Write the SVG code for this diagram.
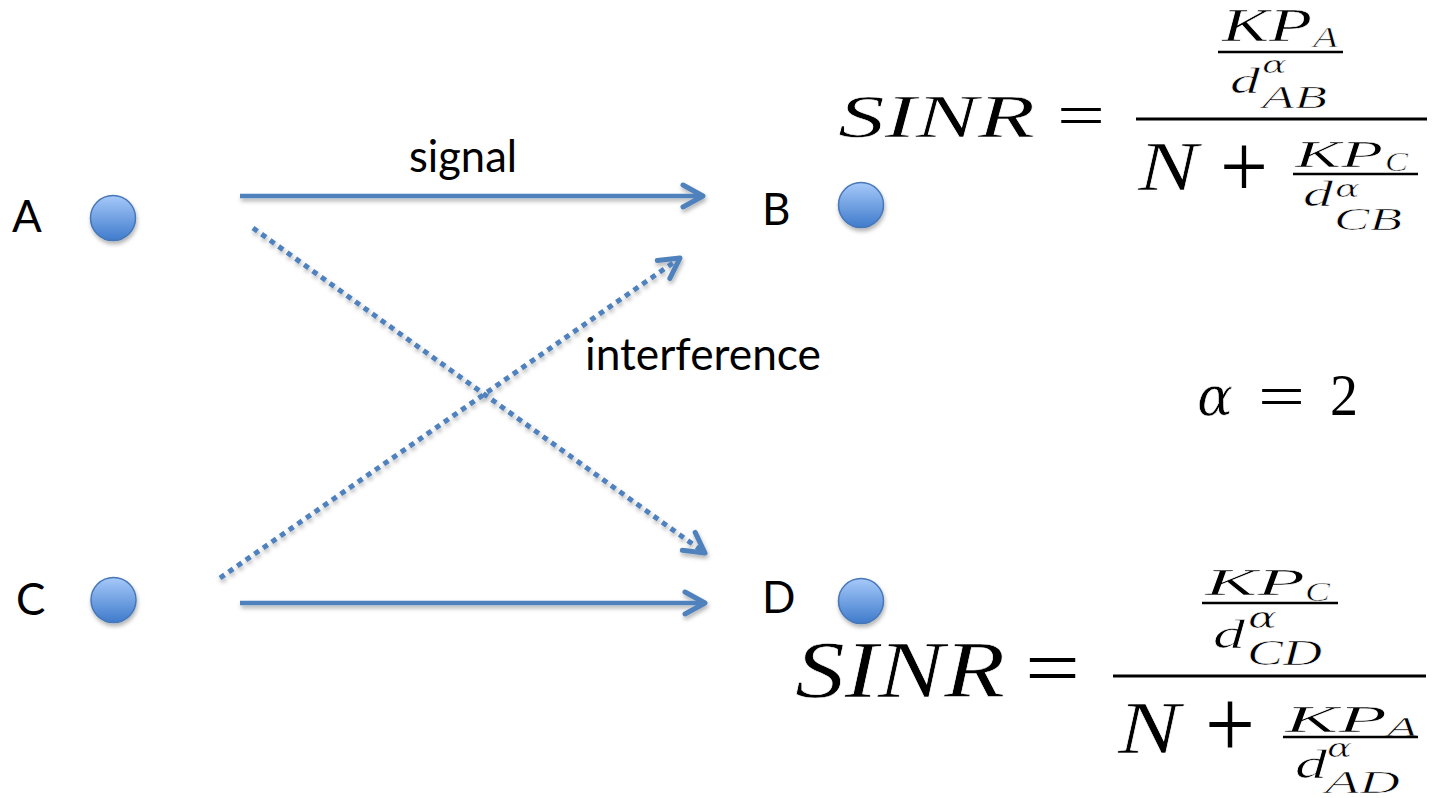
<svg xmlns="http://www.w3.org/2000/svg" width="1441" height="798" viewBox="0 0 1441 798">
<defs>
<linearGradient id="ball" x1="0" y1="0" x2="0" y2="1">
<stop offset="0" stop-color="#a6c9fa"/>
<stop offset="1" stop-color="#3f7bcb"/>
</linearGradient>
<filter id="sh" x="-20%" y="-20%" width="140%" height="150%">
<feDropShadow dx="1" dy="3" stdDeviation="2" flood-color="#000" flood-opacity="0.3"/>
</filter>
<marker id="arr" markerUnits="userSpaceOnUse" viewBox="-26 -15 30 30" refX="0" refY="0" markerWidth="30" markerHeight="30" orient="auto">
<path d="M-20,-11 L0,0 L-20,11" fill="none" stroke="#4f81bd" stroke-width="5" stroke-linecap="round" stroke-linejoin="round"/>
</marker>
</defs>
<style>
.lbl{font-family:Lato,"Open Sans","Liberation Sans",sans-serif;font-size:44px;fill:#000}
.node{fill:url(#ball);stroke:#4677b8;stroke-width:1.5}
.edge{fill:none;stroke:#4f81bd;stroke-width:4.5;marker-end:url(#arr)}
.dot{stroke-dasharray:5.5 5;stroke-width:5}
.m{font-family:"Liberation Serif","Times New Roman",serif;font-style:italic;fill:#000;stroke:#fff;stroke-width:0.6}
.g{font-family:"DejaVu Serif","Liberation Serif",serif;font-style:italic;fill:#000;stroke:#fff;stroke-width:0.6}
.u{font-family:"Liberation Serif","Times New Roman",serif;font-style:normal;fill:#000}
.bar{stroke:#000;fill:none}
</style>
<rect width="1441" height="798" fill="#fff"/>

<g id="connectors" filter="url(#sh)">
<line class="edge" x1="240" y1="196" x2="703" y2="196"/>
<line class="edge" x1="240" y1="603" x2="705" y2="603"/>
<line class="edge dot" x1="253" y1="228" x2="705" y2="553"/>
<line class="edge dot" x1="220" y1="578" x2="680" y2="258"/>
</g>

<g id="node-A">
<circle class="node" cx="113" cy="218" r="22.5" filter="url(#sh)"/>
<text class="lbl" x="12" y="232" font-size="46">A</text>
</g>
<g id="node-B">
<circle class="node" cx="861" cy="205" r="22.5" filter="url(#sh)"/>
<text class="lbl" x="762" y="225">B</text>
</g>
<g id="node-C">
<circle class="node" cx="113.5" cy="600" r="22.5" filter="url(#sh)"/>
<text class="lbl" x="16" y="615" font-size="46">C</text>
</g>
<g id="node-D">
<circle class="node" cx="861" cy="601" r="22.5" filter="url(#sh)"/>
<text class="lbl" x="762" y="613">D</text>
</g>

<g id="labels">
<text class="lbl" x="409" y="172" textLength="108" lengthAdjust="spacingAndGlyphs">signal</text>
<text class="lbl" x="585" y="370" textLength="236" lengthAdjust="spacingAndGlyphs">interference</text>
</g>

<g id="formula-B">
<text class="m" x="838" y="137" font-size="62" textLength="197" lengthAdjust="spacingAndGlyphs">SINR</text>
<text class="u" x="1057" y="136" font-size="62" textLength="48" lengthAdjust="spacingAndGlyphs">=</text>
<line class="bar" x1="1136" y1="119" x2="1427" y2="119" stroke-width="3"/>
<text class="m" x="1222" y="41" font-size="46" textLength="90" lengthAdjust="spacingAndGlyphs">KP</text>
<text class="m" x="1313" y="47" font-size="30" textLength="25" lengthAdjust="spacingAndGlyphs">A</text>
<line class="bar" x1="1218" y1="52" x2="1343" y2="52" stroke-width="2.5"/>
<text class="m" x="1230" y="93" font-size="36" textLength="30" lengthAdjust="spacingAndGlyphs">d</text>
<text class="g" x="1262" y="73" font-size="24" textLength="25" lengthAdjust="spacingAndGlyphs">α</text>
<text class="m" x="1262" y="108" font-size="31" textLength="65" lengthAdjust="spacingAndGlyphs">AB</text>
<text class="m" x="1138" y="190" font-size="70" textLength="60" lengthAdjust="spacingAndGlyphs">N</text>
<text class="u" x="1220" y="197" font-size="90" textLength="48" lengthAdjust="spacingAndGlyphs">+</text>
<text class="m" x="1295" y="167" font-size="38" textLength="88" lengthAdjust="spacingAndGlyphs">KP</text>
<text class="m" x="1385" y="171" font-size="28" textLength="23" lengthAdjust="spacingAndGlyphs">C</text>
<line class="bar" x1="1293" y1="174" x2="1418" y2="174" stroke-width="2.5"/>
<text class="m" x="1303" y="206" font-size="36" textLength="30" lengthAdjust="spacingAndGlyphs">d</text>
<text class="g" x="1335" y="197" font-size="24" textLength="25" lengthAdjust="spacingAndGlyphs">α</text>
<text class="m" x="1334" y="230" font-size="31" textLength="68" lengthAdjust="spacingAndGlyphs">CB</text>
</g>

<g id="formula-D">
<text class="m" x="795" y="697" font-size="80" textLength="210" lengthAdjust="spacingAndGlyphs">SINR</text>
<text class="u" x="1025" y="695" font-size="80" textLength="55" lengthAdjust="spacingAndGlyphs">=</text>
<line class="bar" x1="1113" y1="676" x2="1426" y2="676" stroke-width="3"/>
<text class="m" x="1205" y="595" font-size="38" textLength="100" lengthAdjust="spacingAndGlyphs">KP</text>
<text class="m" x="1305" y="601" font-size="28" textLength="25" lengthAdjust="spacingAndGlyphs">C</text>
<line class="bar" x1="1202" y1="603" x2="1338" y2="603" stroke-width="2.5"/>
<text class="m" x="1213" y="648" font-size="41" textLength="32" lengthAdjust="spacingAndGlyphs">d</text>
<text class="g" x="1248" y="628" font-size="30" textLength="29" lengthAdjust="spacingAndGlyphs">α</text>
<text class="m" x="1247" y="665" font-size="35" textLength="75" lengthAdjust="spacingAndGlyphs">CD</text>
<text class="m" x="1118" y="753" font-size="75" textLength="62" lengthAdjust="spacingAndGlyphs">N</text>
<text class="u" x="1205" y="758" font-size="100" textLength="50" lengthAdjust="spacingAndGlyphs">+</text>
<text class="m" x="1285" y="732" font-size="37" textLength="102" lengthAdjust="spacingAndGlyphs">KP</text>
<text class="m" x="1387" y="736" font-size="28" textLength="30" lengthAdjust="spacingAndGlyphs">A</text>
<line class="bar" x1="1283" y1="737" x2="1418" y2="737" stroke-width="2.5"/>
<text class="m" x="1295" y="778" font-size="40" textLength="32" lengthAdjust="spacingAndGlyphs">d</text>
<text class="g" x="1327" y="757" font-size="26" textLength="25" lengthAdjust="spacingAndGlyphs">α</text>
<text class="m" x="1325" y="793" font-size="31" textLength="75" lengthAdjust="spacingAndGlyphs">AD</text>
</g>

<g id="alpha">
<text class="g" x="1197" y="415" font-size="54" textLength="36" lengthAdjust="spacingAndGlyphs">α</text>
<text class="u" x="1258" y="416" font-size="59" textLength="47" lengthAdjust="spacingAndGlyphs">=</text>
<text class="u" x="1330" y="415" font-size="59" textLength="28" lengthAdjust="spacingAndGlyphs">2</text>
</g>
</svg>
